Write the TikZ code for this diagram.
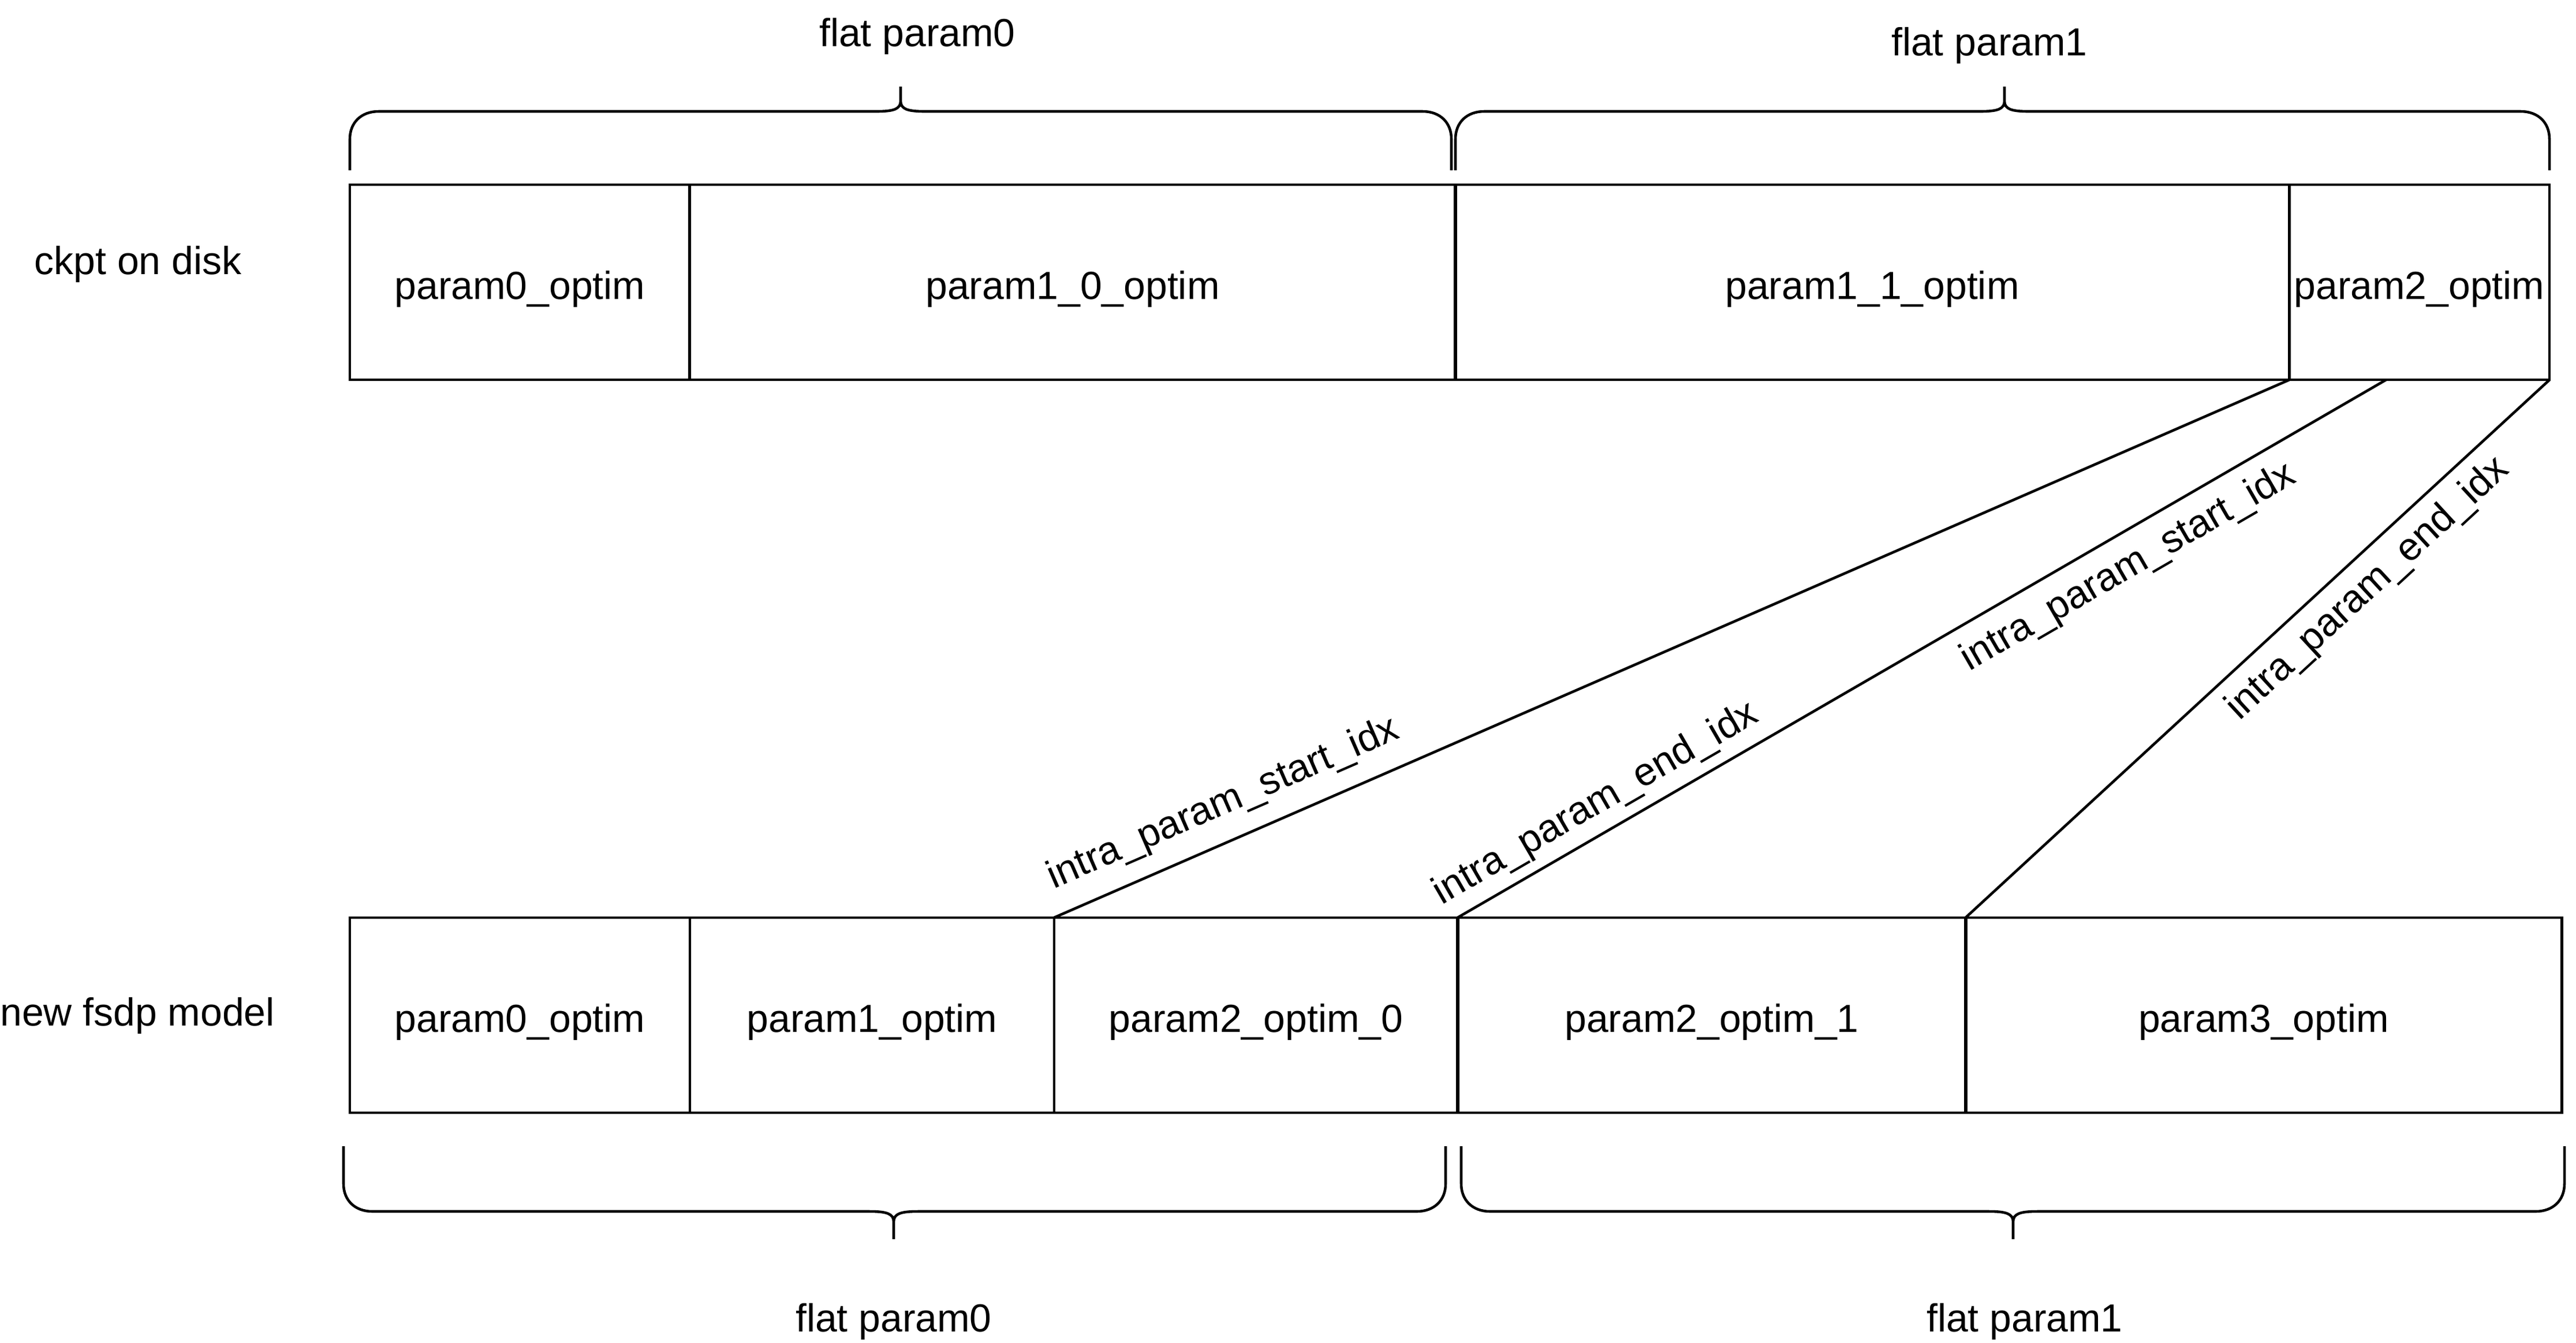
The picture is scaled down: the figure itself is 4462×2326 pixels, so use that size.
\documentclass[tikz,border=0pt]{standalone}
\usepackage{fontspec}
\setmainfont{Liberation Sans}
\usetikzlibrary{calc}
\newcommand{\bracetop}[3]{%
  \draw[brc] (#1,295) -- (#1,241) .. controls (#1,212) and ({#1+20},193) .. ({#1+50},193)
    -- ({#2-42},193) .. controls ({#2-12},193) and (#2,189) .. (#2,175) -- (#2,150)
    (#2,175) .. controls (#2,189) and ({#2+12},193) .. ({#2+42},193)
    -- ({#3-50},193) .. controls ({#3-20},193) and (#3,212) .. (#3,241) -- (#3,295);}
\newcommand{\bracebot}[3]{%
  \draw[brc] (#1,1986) -- (#1,2051) .. controls (#1,2080) and ({#1+20},2099) .. ({#1+50},2099)
    -- ({#2-42},2099) .. controls ({#2-12},2099) and (#2,2103) .. (#2,2117) -- (#2,2147)
    (#2,2117) .. controls (#2,2103) and ({#2+12},2099) .. ({#2+42},2099)
    -- ({#3-50},2099) .. controls ({#3-20},2099) and (#3,2080) .. (#3,2051) -- (#3,1986);}
\begin{document}
\begin{tikzpicture}[x=0.01cm,y=-0.01cm,
  txt/.style={font=\fontsize{19.3pt}{23pt}\selectfont, inner sep=0pt},
  cell/.style={txt, draw, line width=1.3pt, outer sep=0pt, minimum height=3.38cm,
    text height=0.73cm, text depth=0.15cm},
  conn/.style={line width=1.3pt},
  brc/.style={line width=1.3pt},
  lab/.style={txt, sloped}]
\useasboundingbox[fill=white] (0,0) rectangle (4462,2326);

% top row: ckpt on disk
\node[cell, minimum width=5.89cm]  (t1) at (900.5,489) {param0\_optim};
\node[cell, minimum width=13.26cm] (t2) at (1858,489)  {param1\_0\_optim};
\node[cell, minimum width=14.44cm] (t3) at (3243,489)  {param1\_1\_optim};
\node[cell, minimum width=4.51cm]  (t4) at (4190.5,489) {param2\_optim};

% bottom row: new fsdp model
\node[cell, minimum width=5.89cm]  (b1) at (900.5,1759) {param0\_optim};
\node[cell, minimum width=6.31cm]  (b2) at (1510.5,1759) {param1\_optim};
\node[cell, minimum width=6.99cm]  (b3) at (2175.5,1759) {param2\_optim\_0};
\node[cell, minimum width=8.80cm]  (b4) at (2965,1759)   {param2\_optim\_1};
\node[cell, minimum width=10.32cm] (b5) at (3921,1759)   {param3\_optim};

% row labels
\node[txt, anchor=base] (ckpt) at (239,475)  {ckpt on disk};
\node[txt, anchor=base] (fsdp) at (238,1777) {new fsdp model};

% brace labels
\node[txt, anchor=base] (fp0t) at (1589,80)   {flat param0};
\node[txt, anchor=base] (fp1t) at (3446,96)   {flat param1};
\node[txt, anchor=base] (fp0b) at (1548,2307) {flat param0};
\node[txt, anchor=base] (fp1b) at (3507,2307) {flat param1};

% braces
\bracetop{606}{1560}{2514}
\bracetop{2521}{3472}{4416}
\bracebot{595}{1548}{2504}
\bracebot{2531}{3487}{4442}

% connectors
\coordinate (m4) at ($(t4.south west)!0.3725!(t4.south east)$);
\draw[conn] (b3.north west) -- node[lab, pos=0.149, above=0.295cm] {intra\_param\_start\_idx} (t3.south east);
\draw[conn] (b4.north west)
  -- node[lab, pos=0.1648, above=0.16cm] {intra\_param\_end\_idx}
     node[lab, pos=0.7045, below=0.24cm] {intra\_param\_start\_idx} (m4);
\draw[conn] (b5.north west) -- node[lab, pos=0.6537, below=0.2cm] {intra\_param\_end\_idx} (t4.south east);
\end{tikzpicture}
\end{document}
